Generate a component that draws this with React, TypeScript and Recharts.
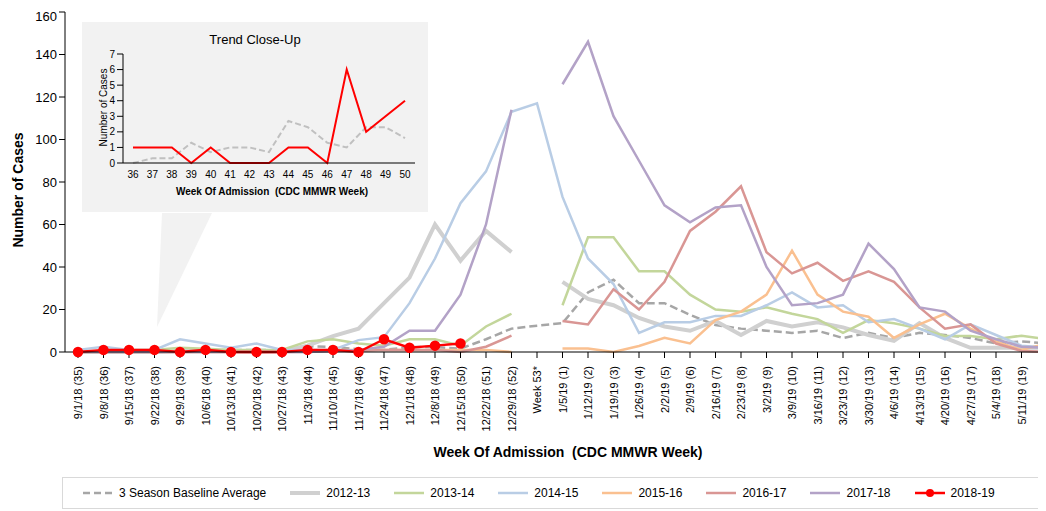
import React from "react";
import { LineChart, Line, XAxis, YAxis } from "recharts";

const weeks = ["9/1/18 (35)","9/8/18 (36)","9/15/18 (37)","9/22/18 (38)","9/29/18 (39)","10/6/18 (40)","10/13/18 (41)","10/20/18 (42)","10/27/18 (43)","11/3/18 (44)","11/10/18 (45)","11/17/18 (46)","11/24/18 (47)","12/1/18 (48)","12/8/18 (49)","12/15/18 (50)","12/22/18 (51)","12/29/18 (52)","Week 53*","1/5/19 (1)","1/12/19 (2)","1/19/19 (3)","1/26/19 (4)","2/2/19 (5)","2/9/19 (6)","2/16/19 (7)","2/23/19 (8)","3/2/19 (9)","3/9/19 (10)","3/16/19 (11)","3/23/19 (12)","3/30/19 (13)","4/6/19 (14)","4/13/19 (15)","4/20/19 (16)","4/27/19 (17)","5/4/19 (18)","5/11/19 (19)",""];
const N = null;
const baseline = [0,0,0.3,0.3,1.3,0.7,1,1,0.7,2.7,2.3,1.3,1,2.3,2.3,1.6,6,11,12.4,13.6,28,34,23,23,17.5,12.7,11,10,9,10,6.6,9,6.6,9,8,6.6,4,5,4];
const s1213 = [0,0,0,0,0.5,0.5,0.5,0,0.5,3,7.5,11,23,35,60,43,57,47,N,33,25,22,16,12,10,14.6,8,14.6,12,14,11.6,8,5.3,13.6,6.6,2,2,2,2];
const s1314 = [0,0.5,1,1,2,1.5,1,1,1,5,6,4,3,6,6,3,12,18,N,22,54,54,38,38,27,20,19,21,18,15.5,9,15,13.5,11,7.5,7.5,6,7.7,6];
const s1415 = [1,2.5,1,1,6,4,2,4,1,1,1,5.6,7,23,44,70,85,113,117,73,44,32,9,14,14,17,17,22,28,21,22,14,15.5,11,6,13,8,3,2];
const s1516 = [0,0,0,0,0,0,0,0,0,0.5,1,1,1,1,1,1,1,0,N,1.7,1.7,0,2.8,6.7,4,15,19,27,47.7,27,19,16.6,6.6,13,18,11,5,1,4];
const s1617 = [0,0,0,0,0,0,0,0,0,0,0.5,0.5,1,1,1,0,2.5,7.7,N,14.6,13,29.5,20,33,57,66,78,47,37,42,33.5,38,33,21,11,13,4,0.5,0];
const s1718 = [0,0,0,0,0,0,0,0,0,0,0.5,1,2.5,10,10,27,60,114,N,126,146,111,90,69,61,68,69,40,22,23,27,51,39,21,19,10,6,2.5,2];
const s1819 = [0,1,1,1,0,1,0,0,0,1,1,0,6,2,3,4,N,N,N,N,N,N,N,N,N,N,N,N,N,N,N,N,N,N,N,N,N,N,N];

const insetWeeks = ["36","37","38","39","40","41","42","43","44","45","46","47","48","49","50"];
const insetBaseline = [0,0.3,0.3,1.3,0.7,1,1,0.7,2.7,2.3,1.3,1,2.3,2.3,1.6];
const inset1819 = [1,1,1,0,1,0,0,0,1,1,0,6,2,3,4];

const data = weeks.map((w, i) => ({
  w, baseline: baseline[i], s1213: s1213[i], s1314: s1314[i], s1415: s1415[i],
  s1516: s1516[i], s1617: s1617[i], s1718: s1718[i], s1819: s1819[i],
}));
const insetData = insetWeeks.map((w, i) => ({ w, baseline: insetBaseline[i], s1819: inset1819[i] }));

const FONT = "Arial, 'Liberation Sans', sans-serif";

const legendItems = [
  { label: "3 Season Baseline Average", color: "#a6a6a6", dash: true },
  { label: "2012-13", color: "#d0d0d0" },
  { label: "2013-14", color: "#c3d69b" },
  { label: "2014-15", color: "#b9cde5" },
  { label: "2015-16", color: "#fac090" },
  { label: "2016-17", color: "#d99694" },
  { label: "2017-18", color: "#b3a2c7" },
  { label: "2018-19", color: "#ff0000", dot: true },
];

const XTick = (props: any) => {
  const { x, y, payload } = props;
  return (
    <text x={x + 4} y={y + 6} transform={`rotate(-90 ${x + 4} ${y + 6})`} textAnchor="end" fontSize={11} fontFamily={FONT} fill="#000">
      {payload.value}
    </text>
  );
};

export default function App() {
  return (
    <div style={{ position: "relative", width: 1038, height: 503, overflow: "hidden", fontFamily: FONT }}>
      <div style={{ position: "absolute", left: 0, top: 0 }}>
        <LineChart width={1070} height={450} data={data} margin={{ top: 4, right: 18, left: 0, bottom: 0 }}>
          <XAxis dataKey="w" interval={0} tick={<XTick />} height={106} padding={{ left: 13, right: 13 }} axisLine={{ stroke: "#000" }} tickLine={{ stroke: "#000" }} />
          <YAxis domain={[0, 160]} ticks={[0,20,40,60,80,100,120,140,160]} width={57} tick={{ fontSize: 13, fill: "#000", fontFamily: FONT }} axisLine={{ stroke: "#000" }} tickLine={{ stroke: "#000" }} />
          <Line dataKey="baseline" stroke="#a6a6a6" strokeWidth={2.5} strokeDasharray="8 4" dot={false} isAnimationActive={false} />
          <Line dataKey="s1213" stroke="#d0d0d0" strokeWidth={4} dot={false} isAnimationActive={false} />
          <Line dataKey="s1314" stroke="#c3d69b" strokeWidth={2.5} dot={false} isAnimationActive={false} />
          <Line dataKey="s1415" stroke="#b9cde5" strokeWidth={2.5} dot={false} isAnimationActive={false} />
          <Line dataKey="s1516" stroke="#fac090" strokeWidth={2.5} dot={false} isAnimationActive={false} />
          <Line dataKey="s1617" stroke="#d99694" strokeWidth={2.5} dot={false} isAnimationActive={false} />
          <Line dataKey="s1718" stroke="#b3a2c7" strokeWidth={2.5} dot={false} isAnimationActive={false} />
          <Line dataKey="s1819" stroke="#ff0000" strokeWidth={2.5} dot={{ r: 4, fill: "#ff0000", stroke: "#ff0000" }} isAnimationActive={false} />
        </LineChart>
      </div>
      <svg style={{ position: "absolute", left: 0, top: 0 }} width={1038} height={503} pointerEvents="none">
        <polygon points="154,205 204,205 149,319" fill="#f2f2f2" />
      </svg>
      <div style={{ position: "absolute", left: 74, top: 14, width: 346, height: 190, background: "#f2f2f2" }}>
        <div style={{ position: "absolute", left: 0, width: 346, top: 10, textAlign: "center", fontSize: 13 }}>Trend Close-Up</div>
        <div style={{ position: "absolute", left: -24, top: 80, transform: "rotate(-90deg)", width: 90, textAlign: "center", fontSize: 10, whiteSpace: "nowrap" }}>Number of Cases</div>
        <div style={{ position: "absolute", left: 40, width: 300, top: 164, textAlign: "center", fontSize: 10, fontWeight: "bold" }}>Week Of Admission&nbsp; (CDC MMWR Week)</div>
        <div style={{ position: "absolute", left: 0, top: 0 }}>
          <LineChart width={346} height={160} data={insetData} margin={{ top: 32, right: 13, left: 0, bottom: 0 }}>
            <XAxis dataKey="w" interval={0} height={19} padding={{ left: 10, right: 10 }} tick={{ fontSize: 10, fill: "#000", fontFamily: FONT }} axisLine={{ stroke: "#000" }} tickLine={false} />
            <YAxis domain={[0, 7]} ticks={[0,1,2,3,4,5,6,7]} interval={0} width={41} tick={{ fontSize: 10, fill: "#000", fontFamily: FONT }} axisLine={{ stroke: "#000" }} tickLine={{ stroke: "#000" }} />
            <Line dataKey="baseline" stroke="#c0c0c0" strokeWidth={2} strokeDasharray="6 3" dot={false} isAnimationActive={false} />
            <Line dataKey="s1819" stroke="#ff0000" strokeWidth={2} dot={false} isAnimationActive={false} />
          </LineChart>
        </div>
      </div>
      <div style={{ position: "absolute", left: 0, top: 174, width: 12, height: 20 }}>
        <div style={{ position: "absolute", left: -50, top: 0, width: 120, transform: "rotate(-90deg)", textAlign: "center", fontSize: 14, fontWeight: "bold", whiteSpace: "nowrap" }}>Number of Cases</div>
      </div>
      <div style={{ position: "absolute", left: 260, width: 600, top: 436, textAlign: "center", fontSize: 14, fontWeight: "bold" }}>Week Of Admission&nbsp; (CDC MMWR Week)</div>
      <div style={{ position: "absolute", left: 54, top: 469, width: 1000, height: 30, border: "1px solid #d9d9d9", display: "flex", alignItems: "center", fontSize: 12 }}>
        {legendItems.map((it, i) => (
          <div key={i} style={{ display: "flex", alignItems: "center", marginLeft: i === 0 ? 18 : 22 }}>
            <svg width={34} height={12}>
              <line x1={2} y1={6} x2={32} y2={6} stroke={it.color} strokeWidth={it.label === "2012-13" ? 4 : 2.5} strokeDasharray={it.dash ? "7 4" : undefined} />
              {it.dot ? <circle cx={17} cy={6} r={4} fill={it.color} /> : null}
            </svg>
            <span style={{ marginLeft: 4 }}>{it.label}</span>
          </div>
        ))}
      </div>
    </div>
  );
}
